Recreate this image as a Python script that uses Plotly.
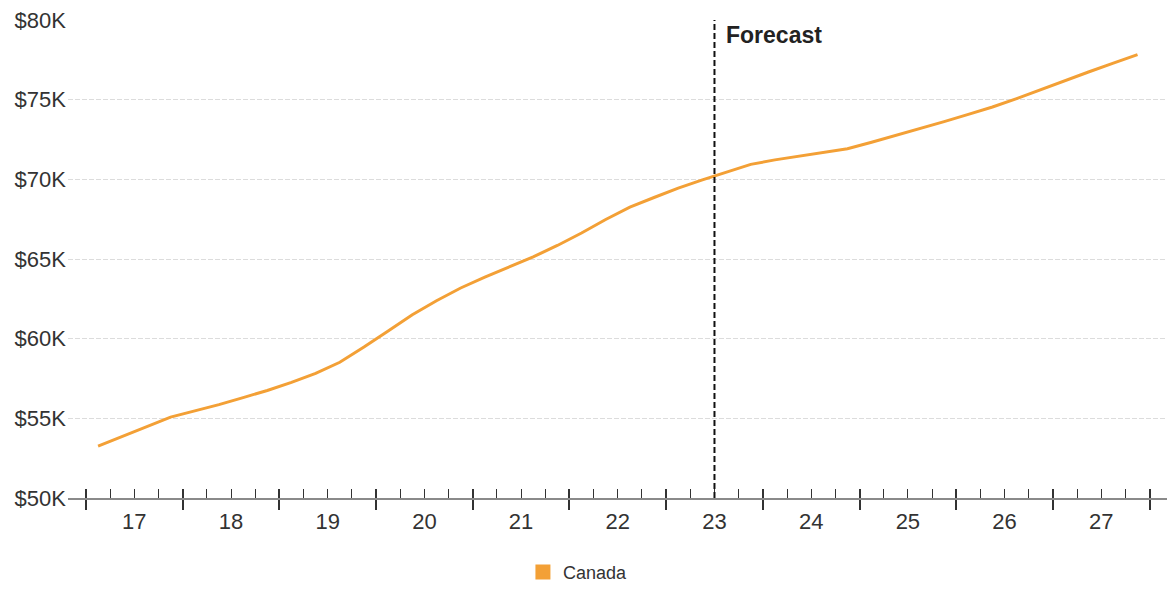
import plotly.graph_objects as go

# ---- data -------------------------------------------------------------
years = [2017, 2018, 2019, 2020, 2021, 2022, 2023, 2024, 2025, 2026, 2027]
year_labels = ["17", "18", "19", "20", "21", "22", "23", "24", "25", "26", "27"]
quarters = [1, 2, 3, 4]

# quarterly values (thousands of CAD), Q1 2017 .. Q4 2027
canada = [
    53.26, 53.87, 54.48, 55.08,
    55.47, 55.86, 56.30, 56.75,
    57.26, 57.82, 58.52, 59.47,
    60.48, 61.50, 62.38, 63.18,
    63.86, 64.49, 65.13, 65.85,
    66.63, 67.48, 68.26, 68.86,
    69.45, 69.97, 70.48, 70.94,
    71.22, 71.44, 71.66, 71.92,
    72.33, 72.75, 73.17, 73.62,
    74.08, 74.54, 75.07, 75.64,
    76.21, 76.75, 77.29, 77.83,
]
series_name = "Canada"
forecast_start = 2023.5
forecast_label = "Forecast"
y_ticks = [50, 55, 60, 65, 70, 75, 80]
y_tick_labels = ["$50K", "$55K", "$60K", "$65K", "$70K", "$75K", "$80K"]

# ---- derived positions --------------------------------------------------
x_vals = [y + (q - 0.5) / 4 for y in years for q in quarters]
year_bounds = years + [years[-1] + 1]
year_mids = [y + 0.5 for y in years]
quarter_marks = [y + q / 4 for y in years for q in (1, 2, 3)]
x_range = [2016.814, 2028.18]

FONT = "Liberation Sans, Arial, sans-serif"
ORANGE = "#F3A036"
TXT = "#333333"

fig = go.Figure()
fig.add_trace(go.Scatter(
    x=x_vals, y=canada, mode="lines", name=series_name,
    line=dict(color=ORANGE, width=3), showlegend=False,
))
# legend swatch (square)
fig.add_trace(go.Scatter(
    x=[None], y=[None], mode="markers", name=series_name,
    marker=dict(symbol="square", size=15, color=ORANGE), showlegend=True,
))
# empty helpers so the overlay axes (tick marks / labels) are drawn
for ax in ("x2", "x3"):
    fig.add_trace(go.Scatter(x=[None], y=[None], xaxis=ax, yaxis="y",
                             mode="lines", showlegend=False, hoverinfo="skip"))

fig.add_shape(type="line", xref="x", yref="paper",
              x0=forecast_start, x1=forecast_start, y0=0, y1=1,
              line=dict(color="#111111", width=2, dash="6px,3px"))
fig.add_annotation(x=forecast_start, xref="x", y=0.969, yref="paper",
                   text="<b>" + forecast_label + "</b>", showarrow=False,
                   xanchor="left", yanchor="middle", xshift=10,
                   font=dict(family=FONT, size=23, color="#222222"))

axis_common = dict(range=x_range, showgrid=False, zeroline=False,
                   automargin=False)

fig.update_layout(
    width=1167, height=592,
    margin=dict(l=68, r=0, t=20, b=94),
    paper_bgcolor="white", plot_bgcolor="white",
    font=dict(family=FONT, color=TXT),
    xaxis=dict(
        **axis_common,
        showline=True, linecolor="#8a8a8a", linewidth=2,
        tickmode="array", tickvals=year_bounds,
        ticks="outside", ticklen=10, tickwidth=2, tickcolor="#333333",
        showticklabels=False,
        minor=dict(tickmode="array", tickvals=quarter_marks, ticks="inside",
                   ticklen=9, tickwidth=1, tickcolor="#333333", showgrid=False),
    ),
    xaxis2=dict(
        **axis_common, overlaying="x", anchor="y", side="bottom",
        showline=False, tickmode="array", tickvals=year_bounds,
        ticks="inside", ticklen=9, tickwidth=2, tickcolor="#333333",
        showticklabels=False,
    ),
    xaxis3=dict(
        **axis_common, overlaying="x", anchor="y", side="bottom",
        showline=False, tickmode="array", tickvals=year_mids,
        ticktext=year_labels, ticks="outside", ticklen=4,
        tickcolor="rgba(0,0,0,0)",
        tickfont=dict(family=FONT, size=22, color=TXT),
    ),
    yaxis=dict(
        range=[50, 80], tickmode="array", tickvals=y_ticks,
        ticktext=y_tick_labels, ticks="", zeroline=False, automargin=False,
        showgrid=True, gridcolor="#dcdcdc", gridwidth=1, griddash="5px,2px",
        tickfont=dict(family=FONT, size=22, color=TXT),
        ticklabelstandoff=1,
    ),
    legend=dict(orientation="h", x=0.464, xanchor="center",
                y=-0.194, yanchor="bottom",
                font=dict(family=FONT, size=18, color=TXT)),
)

fig.write_html("out.html",
               config={"displayModeBar": False},
               post_script="document.body.style.margin='0';")
